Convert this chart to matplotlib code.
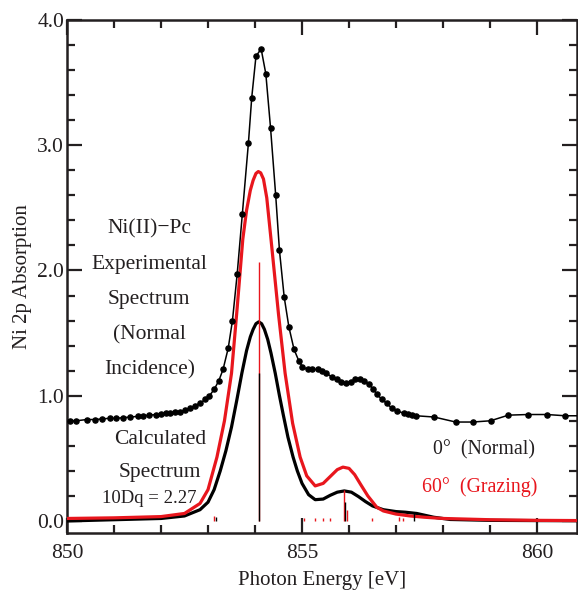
import matplotlib
matplotlib.use("Agg")
import matplotlib.pyplot as plt
from matplotlib.ticker import MultipleLocator

plt.rcParams['font.family'] = ['Liberation Serif', 'DejaVu Serif']

# Experimental spectrum (Normal incidence)
exp_e = [850.06, 850.2, 850.42, 850.6, 850.75, 850.91, 851.05, 851.2, 851.35, 851.5,
         851.62, 851.75, 851.9, 852.0, 852.1, 852.2, 852.3, 852.4, 852.51, 852.62,
         852.72, 852.83, 852.94, 853.03, 853.13, 853.23, 853.32, 853.43, 853.52, 853.62,
         853.73, 853.86, 853.93, 854.02, 854.13, 854.23, 854.33, 854.44, 854.52, 854.62,
         854.72, 854.83, 854.93, 855.01, 855.12, 855.22, 855.33, 855.43, 855.52, 855.63,
         855.74, 855.83, 855.93, 856.04, 856.13, 856.23, 856.32, 856.43, 856.52, 856.60,
         856.70, 856.80, 856.91, 857.01, 857.17, 857.26, 857.35, 857.43, 857.81, 858.27,
         858.63, 859.01, 859.39, 859.81, 860.21, 860.60, 861.0]
exp_v = [0.80, 0.80, 0.81, 0.81, 0.815, 0.82, 0.82, 0.825, 0.83, 0.835,
         0.84, 0.845, 0.85, 0.855, 0.86, 0.862, 0.867, 0.87, 0.885, 0.90,
         0.92, 0.94, 0.97, 1.00, 1.05, 1.12, 1.21, 1.38, 1.60, 1.97,
         2.45, 3.02, 3.38, 3.71, 3.77, 3.57, 3.14, 2.60, 2.16, 1.79,
         1.55, 1.37, 1.28, 1.23, 1.21, 1.21, 1.21, 1.20, 1.18, 1.15,
         1.13, 1.11, 1.10, 1.11, 1.13, 1.13, 1.12, 1.09, 1.05, 1.01,
         0.97, 0.94, 0.90, 0.88, 0.86, 0.855, 0.85, 0.84, 0.83, 0.79,
         0.79, 0.80, 0.845, 0.85, 0.85, 0.84, 0.84]

# Calculated spectrum, 0 deg (Normal)
calc0_e = [850.0, 851.0, 852.0, 852.5, 852.83, 853.0, 853.13, 853.26, 853.38, 853.5,
           853.61, 853.72, 853.82, 853.9, 853.96, 854.02, 854.08, 854.14, 854.2, 854.27,
           854.34, 854.43, 854.52, 854.6, 854.7, 854.81, 854.9, 855.0, 855.14, 855.28,
           855.45, 855.6, 855.75, 855.9, 856.05, 856.2, 856.35, 856.5, 856.73, 857.0,
           857.2, 857.44, 857.8, 858.15, 859.0, 860.0, 861.0]
calc0_v = [0.0, 0.01, 0.02, 0.04, 0.09, 0.15, 0.25, 0.40, 0.56, 0.75,
           0.96, 1.18, 1.36, 1.47, 1.53, 1.575, 1.59, 1.575, 1.53, 1.45,
           1.34, 1.18, 1.00, 0.85, 0.67, 0.51, 0.40, 0.30, 0.21, 0.17,
           0.175, 0.205, 0.23, 0.24, 0.23, 0.195, 0.155, 0.12, 0.09, 0.075,
           0.07, 0.06, 0.03, 0.012, 0.005, 0.003, 0.002]

# Calculated spectrum, 60 deg (Grazing)
calc60_e = [850.0, 851.0, 852.0, 852.5, 852.83, 853.0, 853.19, 853.35, 853.5, 853.62,
            853.74, 853.82, 853.9, 853.96, 854.02, 854.07, 854.12, 854.18, 854.25, 854.34,
            854.5, 854.64, 854.8, 854.96, 855.1, 855.28, 855.45, 855.6, 855.75, 855.87,
            856.0, 856.12, 856.25, 856.4, 856.59, 856.73, 857.0, 857.3, 857.6, 858.0,
            859.0, 860.0, 861.0]
calc60_v = [0.02, 0.025, 0.035, 0.06, 0.14, 0.25, 0.51, 0.80, 1.18, 1.70,
            2.25, 2.48, 2.64, 2.72, 2.775, 2.79, 2.78, 2.73, 2.58, 2.25,
            1.65, 1.18, 0.78, 0.51, 0.36, 0.28, 0.30, 0.355, 0.41, 0.43,
            0.42, 0.37, 0.29, 0.20, 0.11, 0.08, 0.055, 0.04, 0.03, 0.02,
            0.01, 0.005, 0.003]

# Stick spectra
stick60_e = [853.12, 854.08, 855.04, 855.27, 855.45, 855.60, 855.90, 855.96, 856.48, 857.06, 857.15]
stick60_h = [0.04, 2.07, 0.02, 0.02, 0.02, 0.02, 0.25, 0.09, 0.02, 0.03, 0.02]
stick0_e = [853.16, 854.08, 855.92, 857.39]
stick0_h = [0.03, 1.18, 0.15, 0.07]

RED = '#e8161d'
INK = '#231f20'

fig = plt.figure(figsize=(5.78, 5.91), dpi=100)
ax = fig.add_axes([67/578, 1-533/591, 510/578, 513/591])

ax.plot(calc0_e, calc0_v, color='black', lw=2.3, zorder=3, solid_joinstyle='round')
ax.plot(calc60_e, calc60_v, color=RED, lw=2.3, zorder=3, solid_joinstyle='round')
ax.vlines(stick60_e, 0, stick60_h, color=RED, lw=1.0, zorder=4)
ax.vlines(stick0_e, 0, stick0_h, color='black', lw=1.0, zorder=5)
ax.plot(exp_e, exp_v, color='black', lw=1.1, marker='o', ms=3.7, zorder=6,
        solid_joinstyle='round')

ax.set_xlim(850, 860.85)
ax.set_ylim(-0.096, 4.0)
ax.xaxis.set_minor_locator(MultipleLocator(1))
ax.yaxis.set_minor_locator(MultipleLocator(0.2))
ax.set_xticks([850, 855, 860])
ax.set_xticklabels(['850', '855', '860'])
ax.set_yticks([0, 1, 2, 3, 4])
ax.set_yticklabels(['0.0', '1.0', '2.0', '3.0', '4.0'])
ax.tick_params(which='both', direction='in', top=True, right=True, labelsize=15.5,
               width=1.6, colors=INK)
ax.tick_params(which='major', length=11)
ax.tick_params(which='minor', length=5.5)
ax.tick_params(axis='x', pad=8)
ax.tick_params(axis='y', pad=2)
for s in ax.spines.values():
    s.set_linewidth(1.8)
    s.set_color(INK)

ax.set_xlabel('Photon Energy [eV]', fontsize=15, color=INK, labelpad=6)
ax.set_ylabel('Ni 2p Absorption', fontsize=15, color=INK, labelpad=4)

tkw = dict(fontsize=15.5, color=INK, ha='center', va='center')
ax.text(851.75, 2.33, 'Ni(II)\u2212Pc', **tkw)
ax.text(851.75, 2.05, 'Experimental', **tkw)
ax.text(851.75, 1.77, 'Spectrum', **tkw)
ax.text(851.75, 1.49, '(Normal', **tkw)
ax.text(851.75, 1.21, 'Incidence)', **tkw)
ax.text(851.98, 0.65, 'Calculated', **tkw)
ax.text(851.98, 0.39, 'Spectrum', **tkw)
ax.text(851.75, 0.18, '10Dq = 2.27', fontsize=13.5, color=INK, ha='center', va='center')
ax.text(858.88, 0.57, '0\u00b0  (Normal)', fontsize=14.3, color=INK, ha='center', va='center')
ax.text(858.78, 0.27, '60\u00b0  (Grazing)', fontsize=14.3, color=RED, ha='center', va='center')

fig.savefig('out.png', dpi=100)
